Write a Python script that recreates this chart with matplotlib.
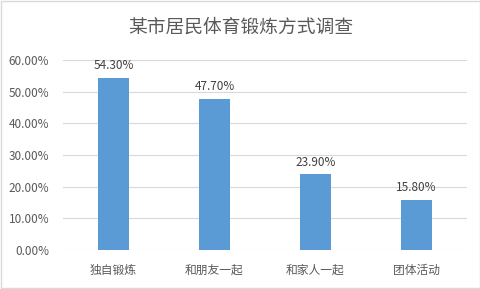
import matplotlib
matplotlib.use("Agg")
import matplotlib.pyplot as plt
from matplotlib.ticker import FuncFormatter, MultipleLocator
from matplotlib.patches import Rectangle

plt.rcParams['font.family'] = ['Noto Sans CJK SC', 'DejaVu Sans']

title = "某市居民体育锻炼方式调查"
categories = ["独自锻炼", "和朋友一起", "和家人一起", "团体活动"]
values = [54.30, 47.70, 23.90, 15.80]
labels = ["54.30%", "47.70%", "23.90%", "15.80%"]

fig = plt.figure(figsize=(4.81, 2.89), dpi=100)
ax = fig.add_axes([0.131, 0.135, 0.840, 0.658])
x = list(range(len(categories)))
bars = ax.bar(x, values, width=0.31, color="#5B9BD5", zorder=3)
for xi, v, lab in zip(x, values, labels):
    ax.annotate(lab, (xi, v), xytext=(0, 4), textcoords="offset points",
                ha="center", va="bottom", fontsize=8.5, color="#404040")
ax.set_xlim(-0.5, len(categories) - 0.5)
ax.set_ylim(0, 60)
ax.yaxis.set_major_locator(MultipleLocator(10))
ax.yaxis.set_major_formatter(FuncFormatter(lambda v, p: f"{v:.2f}%"))
ax.set_xticks(x)
ax.set_xticklabels(categories)
ax.tick_params(axis="both", length=0, labelsize=8.5, labelcolor="#595959")
ax.tick_params(axis="x", pad=10)
ax.tick_params(axis="y", pad=10)
ax.grid(axis="y", color="#D9D9D9", linewidth=0.8, zorder=0)
for s in ax.spines.values():
    s.set_visible(False)
fig.text(0.5, 0.905, title, ha="center", va="center", fontsize=13.5, color="#595959")
fig.patches.append(Rectangle((0.002, 0.003), 0.995, 0.994, transform=fig.transFigure,
                             fill=False, edgecolor="#D9D9D9", linewidth=1))
fig.savefig("out.png", dpi=100)
